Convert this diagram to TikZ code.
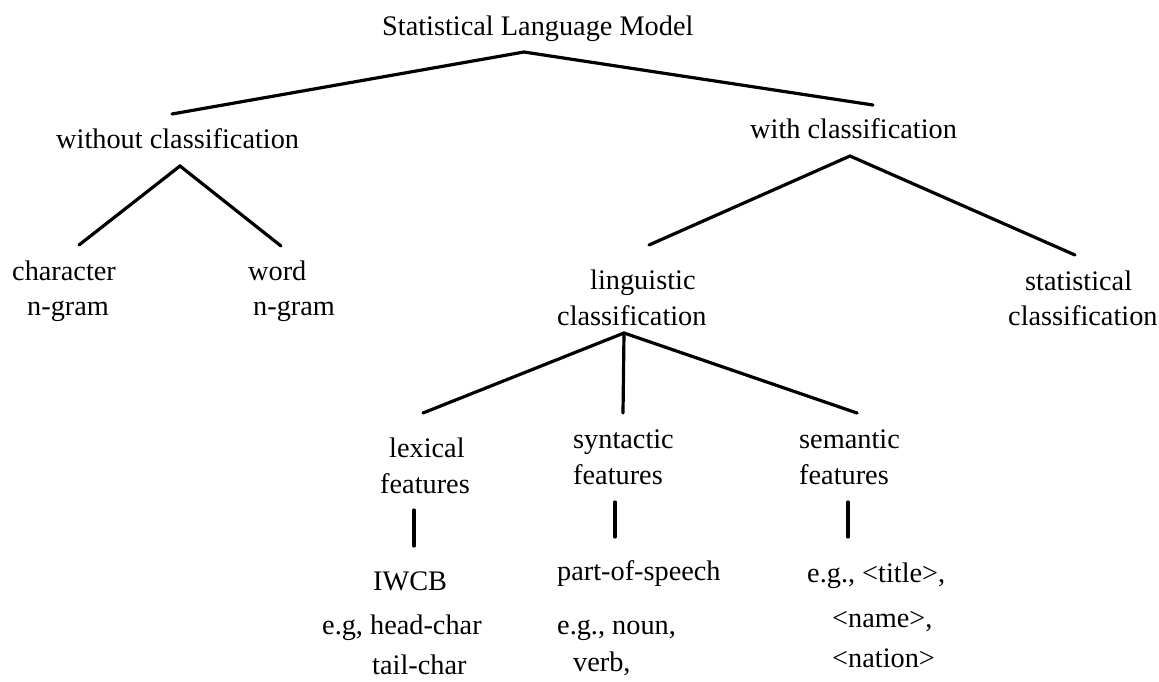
\documentclass[tikz,border=0pt]{standalone}
\usepackage{fontspec}
\setmainfont{Liberation Serif}
\begin{document}
\begin{tikzpicture}[x=1pt,y=-1pt,
  txt/.style={anchor=base west,inner sep=0pt,font=\fontsize{28.3}{34}\selectfont},
  conn/.style={line width=3.2pt,line cap=round}]
\useasboundingbox (0,0) rectangle (1159,681);
% texts
\node[txt] (root) at (382,35) {Statistical Language Model};
\node[txt] (wo) at (56,148) {without classification};
\node[txt] (wi) at (750,138) {with classification};
\node[txt] (char1) at (12,280) {character};
\node[txt] (char2) at (27,315) {n-gram};
\node[txt] (word1) at (248,280) {word};
\node[txt] (word2) at (253,315) {n-gram};
\node[txt] (ling1) at (590,289) {linguistic};
\node[txt] (ling2) at (557,325) {classification};
\node[txt] (stat1) at (1025,290) {statistical};
\node[txt] (stat2) at (1008,325) {classification};
\node[txt] (lex1) at (389,457) {lexical};
\node[txt] (lex2) at (380,493) {features};
\node[txt] (syn1) at (573,448) {syntactic};
\node[txt] (syn2) at (573,484) {features};
\node[txt] (sem1) at (799,448) {semantic};
\node[txt] (sem2) at (799,484) {features};
\node[txt] (lexa) at (373,590) {IWCB};
\node[txt] (lexb) at (322,634) {e.g, head-char};
\node[txt] (lexc) at (372,674) {tail-char};
\node[txt] (syna) at (557,580) {part-of-speech};
\node[txt] (synb) at (557,634) {e.g., noun,};
\node[txt] (sync) at (573,671) {verb,};
\node[txt] (sema) at (807,582) {e.g., <title>,};
\node[txt] (semb) at (832,627) {<name>,};
\node[txt] (semc) at (832,667) {<nation>};
% connector points
\coordinate (rootA) at (524,52);
\coordinate (woE) at (172,114);
\coordinate (wiE) at (873,105);
\coordinate (woA) at (180,166);
\coordinate (charE) at (79,245);
\coordinate (wordE) at (281,246);
\coordinate (wiA) at (850,156);
\coordinate (lingE) at (649,245);
\coordinate (statE) at (1075,255);
\coordinate (lingA) at (624,333);
\coordinate (lexE) at (423,413);
\coordinate (synE) at (623,413);
\coordinate (semE) at (857,413);
\coordinate (lexT) at (414,510);
\coordinate (lexB) at (414,546);
\coordinate (synT) at (615,502);
\coordinate (synB) at (615,537);
\coordinate (semT) at (848,502);
\coordinate (semB) at (848,537);
% connectors
\draw[conn] (woE) -- (rootA) -- (wiE);
\draw[conn] (charE) -- (woA) -- (wordE);
\draw[conn] (lingE) -- (wiA) -- (statE);
\draw[conn] (lexE) -- (lingA) -- (semE);
\draw[conn] (lingA) -- (synE);
\draw[conn] (lexT) -- (lexB);
\draw[conn] (synT) -- (synB);
\draw[conn] (semT) -- (semB);
\end{tikzpicture}
\end{document}
